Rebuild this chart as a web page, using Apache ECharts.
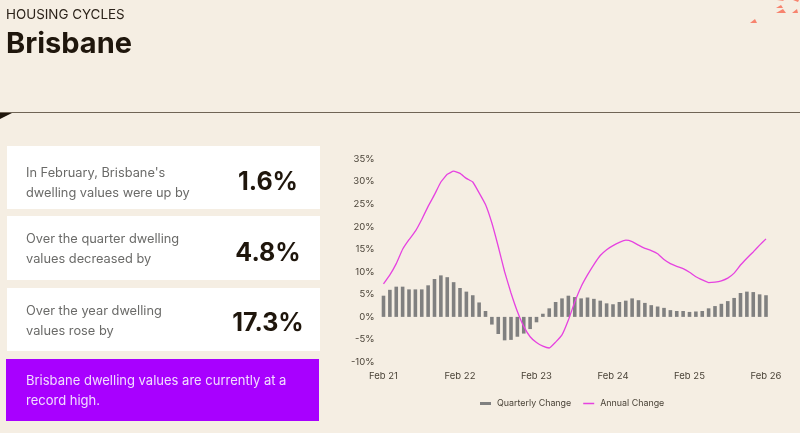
<!DOCTYPE html>
<html><head><meta charset="utf-8">
<style>html,body{margin:0;padding:0;background:#f5eee3;overflow:hidden}#c{width:800px;height:433px}</style>
<script src="https://cdn.jsdelivr.net/npm/echarts@6/dist/echarts.min.js"></script>
</head><body><div id="c"></div>
<script>
const categories = [
'Feb 21','Mar 21','Apr 21','May 21','Jun 21','Jul 21','Aug 21','Sep 21','Oct 21','Nov 21','Dec 21','Jan 22',
'Feb 22','Mar 22','Apr 22','May 22','Jun 22','Jul 22','Aug 22','Sep 22','Oct 22','Nov 22','Dec 22','Jan 23',
'Feb 23','Mar 23','Apr 23','May 23','Jun 23','Jul 23','Aug 23','Sep 23','Oct 23','Nov 23','Dec 23','Jan 24',
'Feb 24','Mar 24','Apr 24','May 24','Jun 24','Jul 24','Aug 24','Sep 24','Oct 24','Nov 24','Dec 24','Jan 25',
'Feb 25','Mar 25','Apr 25','May 25','Jun 25','Jul 25','Aug 25','Sep 25','Oct 25','Nov 25','Dec 25','Jan 26',
'Feb 26'];
const quarterly = [4.7,6.0,6.7,6.7,6.1,6.1,6.1,7.0,8.4,9.2,8.8,7.7,
6.4,5.6,4.8,3.2,1.3,-1.7,-3.8,-5.2,-5.1,-4.4,-3.7,-2.7,
-1.2,0.7,1.9,3.3,4.1,4.7,4.4,4.1,4.3,4.0,3.6,3.0,
2.8,3.3,3.6,4.1,3.7,3.1,2.6,2.3,2.0,1.5,1.3,1.3,
1.1,1.2,1.3,1.9,2.4,2.9,3.5,4.2,5.3,5.6,5.5,5.0,4.8];
const annual = [7.3,9.3,11.8,15.0,17.1,19.0,21.6,24.5,27.1,29.9,31.6,32.3,
31.8,30.7,29.9,27.5,24.9,20.8,15.6,10.0,5.3,1.2,-2.1,-4.4,
-5.7,-6.5,-6.9,-5.6,-4.0,-0.7,3.3,6.7,9.3,11.6,13.6,14.9,
15.8,16.5,17.0,16.7,15.9,15.2,14.7,14.0,12.7,11.8,11.2,10.7,
9.9,8.9,8.2,7.6,7.7,8.0,8.6,9.7,11.5,13.0,14.4,15.9,17.3];
const seriesNames = ['Quarterly Change','Annual Change'];
const FONT = 'Inter, "Liberation Sans", sans-serif';
const panels = [
  {y:146,h:63,ty:183.5,ny:182.5,text:"In February, Brisbane's\ndwelling values were up by",num:'1.6%'},
  {y:216,h:64,ty:249,ny:253,text:'Over the quarter dwelling\nvalues decreased by',num:'4.8%'},
  {y:288,h:63,ty:321,ny:323.5,text:'Over the year dwelling\nvalues rose by',num:'17.3%'}
];
const g = [];
g.push({type:'line',silent:true,shape:{x1:0,y1:112.5,x2:800,y2:112.5},style:{stroke:'#6f6455',lineWidth:1}});
g.push({type:'polygon',silent:true,shape:{points:[[0,113],[12,113],[0,119]]},style:{fill:'#1f160c'}});
[[[750,23],[755,19],[757,23]],[[776,13],[783,9],[786,13]],[[792,13],[797,9],[798,13]],[[776,8],[781,5],[783,8]],[[777,1],[784,0],[783,1]],[[793,0],[799,0],[798,2]]]
 .forEach(p=>g.push({type:'polygon',silent:true,shape:{points:p},style:{fill:'#f7836e'}}));
panels.forEach(p=>{
  g.push({type:'rect',silent:true,shape:{x:7,y:p.y,width:313,height:p.h},style:{fill:'#ffffff'}});
  g.push({type:'text',silent:true,style:{x:26,y:p.ty,text:p.text,fill:'#6a6a68',font:'400 12.8px '+FONT,lineHeight:20,verticalAlign:'middle',align:'left'}});
  g.push({type:'text',silent:true,style:{x:268,y:p.ny,text:p.num,fill:'#1f160c',font:'700 25px '+FONT,verticalAlign:'middle',align:'center'}});
});
g.push({type:'rect',silent:true,shape:{x:6,y:359,width:313,height:62},style:{fill:'#a800ff'}});
g.push({type:'text',silent:true,style:{x:26,y:391,text:'Brisbane dwelling values are currently at a\nrecord high.',fill:'#f2dcff',font:'400 13px '+FONT,lineHeight:20,verticalAlign:'middle',align:'left'}});

const chart = echarts.init(document.getElementById('c'),null,{renderer:'canvas'});
chart.setOption({
  animation:false,
  backgroundColor:'#f5eee3',
  title:[
    {text:'HOUSING CYCLES',left:6,top:8,padding:0,textStyle:{fontFamily:FONT,fontWeight:400,fontSize:13.4,color:'#2b2219'}},
    {text:'Brisbane',left:6,top:30,padding:0,textStyle:{fontFamily:FONT,fontWeight:700,fontSize:29,color:'#1f160c'}}
  ],
  grid:{left:383.5,right:34,top:159,bottom:71,containLabel:false},
  legend:{top:399,left:480,padding:0,itemGap:12,itemWidth:11,itemHeight:3,
    textStyle:{fontFamily:FONT,fontSize:8.9,color:'#4a4338',padding:[0,0,0,1]},
    data:[{name:seriesNames[0],icon:'rect'},
          {name:seriesNames[1],icon:'path://M0 0H0.01V0.01H0Z M0 30H0.01V30.01H0Z M0 8H110V22H0Z'}]},
  xAxis:{type:'category',data:categories,boundaryGap:false,
    axisLine:{show:false},axisTick:{show:false},
    axisLabel:{interval:11,margin:9,fontFamily:FONT,fontSize:9.5,color:'#4a4338',showMinLabel:true,showMaxLabel:true,hideOverlap:false},
    position:'bottom'},
  yAxis:{type:'value',min:-10,max:35,interval:5,
    axisLine:{show:false},axisTick:{show:false},splitLine:{show:false},
    axisLabel:{margin:9,fontFamily:FONT,fontSize:9.5,color:'#4a4338',formatter:'{value}%'}},
  series:[
    {name:seriesNames[0],type:'bar',data:quarterly,barWidth:3.6,itemStyle:{color:'#808080'}},
    {name:seriesNames[1],type:'line',data:annual,smooth:0.12,symbol:'none',showSymbol:false,z:5,lineStyle:{color:'#e642e0',width:1.3},itemStyle:{color:'#e642e0'}}
  ],
  graphic:g
});
</script></body></html>
